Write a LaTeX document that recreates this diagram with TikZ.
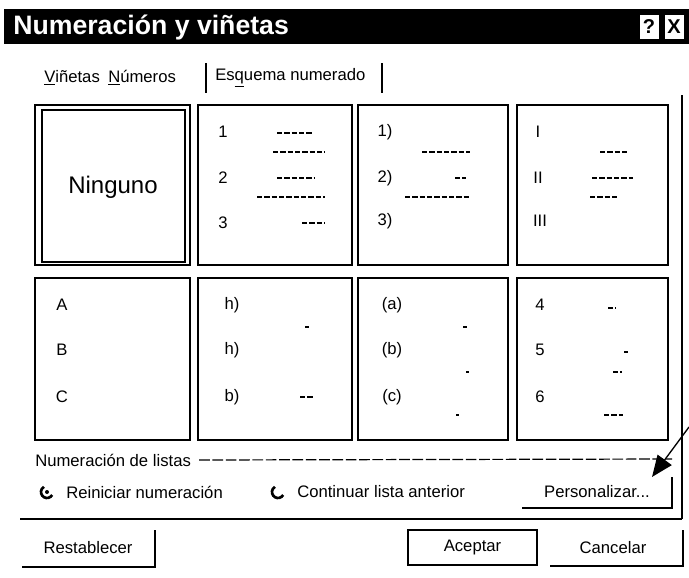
\documentclass[tikz,border=0pt]{standalone}
\usepackage{fontspec}
\setmainfont{Liberation Sans}
\usetikzlibrary{arrows.meta}

\begin{document}
\begin{tikzpicture}[
            x=0.75pt, y=-0.75pt,
            dlgtext/.style={inner sep=0pt, font=\fontsize{12.5}{14}\selectfont},
            prevtext/.style={inner sep=0pt, font=\fontsize{12.5}{14}\selectfont},
            cell/.style={line width=1.2pt},
            ghost/.style={line width=0.9pt, dash pattern=on 4pt off 1.5pt},
            edge/.style={line width=1.3pt},
            radio/.style={line width=2pt},
            pointer/.style={line width=1pt, -{Triangle[length=16pt, width=13pt]}}
        ]
            \useasboundingbox (0,0) rectangle (689,578);

            \fill (4,9) rectangle (689,44);
            \node[anchor=west, text=white, inner sep=0pt, font=\fontsize{20}{22}\selectfont\bfseries] (title) at (13,27) {Numeración y viñetas};
            \node[draw, fill=white, minimum width=15pt, minimum height=19pt, inner sep=0pt, font=\fontsize{15}{15}\selectfont\bfseries] (help) at (649,27) {?};
            \node[draw, fill=white, minimum width=15pt, minimum height=19pt, inner sep=0pt, font=\fontsize{15}{15}\selectfont\bfseries] (close) at (674,27) {X};

            \node[dlgtext, anchor=west] (tabvin) at (44,78) {\underline{V}iñetas};
            \node[dlgtext, anchor=west] (tabnum) at (108,78) {\underline{N}úmeros};
            \node[dlgtext, anchor=west] (tabesq) at (215,78) {Es\underline{q}uema numerado};
            \draw[edge] (206,63) -- (206,93);
            \draw[edge] (382,63) -- (382,93);

            \foreach \xa/\xb in {35/190, 198/352, 358/508, 517/668} {
                \draw[cell] (\xa,105) rectangle (\xb,265);
                \draw[cell] (\xa,278) rectangle (\xb,440);
            }
            \draw[cell] (42,110) rectangle (185,262);
            \node[inner sep=0pt, font=\fontsize{18}{20}\selectfont] (ninguno) at (113,187) {Ninguno};

            \node[prevtext] (numa) at (223,132) {1};
            \node[prevtext] (numb) at (223,178) {2};
            \node[prevtext] (numc) at (223,223) {3};
            \node[prevtext] (para) at (385,132) {1)};
            \node[prevtext] (parb) at (385,178) {2)};
            \node[prevtext] (parc) at (385,221) {3)};
            \node[prevtext] (roma) at (538,132) {I};
            \node[prevtext] (romb) at (538,178) {II};
            \node[prevtext] (romc) at (540,221) {III};

            \node[prevtext] (leta) at (62,305) {A};
            \node[prevtext] (letb) at (62,350) {B};
            \node[prevtext] (letc) at (62,397) {C};
            \node[prevtext] (mina) at (232,305) {h)};
            \node[prevtext] (minb) at (232,350) {h)};
            \node[prevtext] (minc) at (232,397) {b)};
            \node[prevtext] (pmina) at (392,305) {(a)};
            \node[prevtext] (pminb) at (392,350) {(b)};
            \node[prevtext] (pminc) at (392,397) {(c)};
            \node[prevtext] (arab) at (540,305) {4};
            \node[prevtext] (arae) at (540,350) {5};
            \node[prevtext] (araf) at (540,397) {6};

            \foreach \xa/\xb/\ya in {277/313/133, 273/325/152, 277/315/178, 257/325/197, 302/325/223,
                                    422/470/152, 455/466/178, 405/470/197,
                                    600/628/152, 592/633/178, 590/617/197,
                                    305/309/327, 300/313/397, 463/467/327, 466/469/372, 456/459/415,
                                    608/616/308, 624/628/352, 613/622/372, 604/623/415} {
                \draw[ghost] (\xa,\ya) -- (\xb,\ya);
            }

            \node[dlgtext, anchor=west] (grplbl) at (35,460) {Numeración de listas};
            \coordinate (grpend) at (672,459);
            \draw[line width=0.9pt, dash pattern=on 8pt off 2pt] ([xshift=6pt]grplbl.east) -- (grpend);

            \draw[radio] (47,492) ++(30:6) arc (30:240:6);
            \fill (47,492) circle (2);
            \node[dlgtext, anchor=west] (restart) at (66,492) {Reiniciar numeración};
            \draw[radio] (278,492) ++(30:6) arc (30:240:6);
            \node[dlgtext, anchor=west] (continue) at (297,492) {Continuar lista anterior};

            \node[dlgtext] (btnpers) at (597,492) {Personalizar...};
            \draw[edge] (522,508) -- (672,508) -- (672,477);

            \draw[edge] (682,95) -- (682,519);
            \draw[edge] (20,519) -- (682,519);

            \node[dlgtext] (btnrest) at (88,548) {Restablecer};
            \draw[edge] (22,567) -- (155,567) -- (155,530);
            \node[dlgtext, draw, line width=1.4pt, minimum width=96.75pt, minimum height=26.25pt] (btnok) at (472.5,547.5) {Aceptar};
            \node[dlgtext] (btncancel) at (613,548) {Cancelar};
            \draw[edge] (550,566) -- (683,566) -- (683,530);

            \coordinate (ptrtail) at (689,427);
            \coordinate (ptrtip) at (652,477);
            \draw[pointer] (ptrtail) -- (ptrtip);
        \end{tikzpicture}
\end{document}
